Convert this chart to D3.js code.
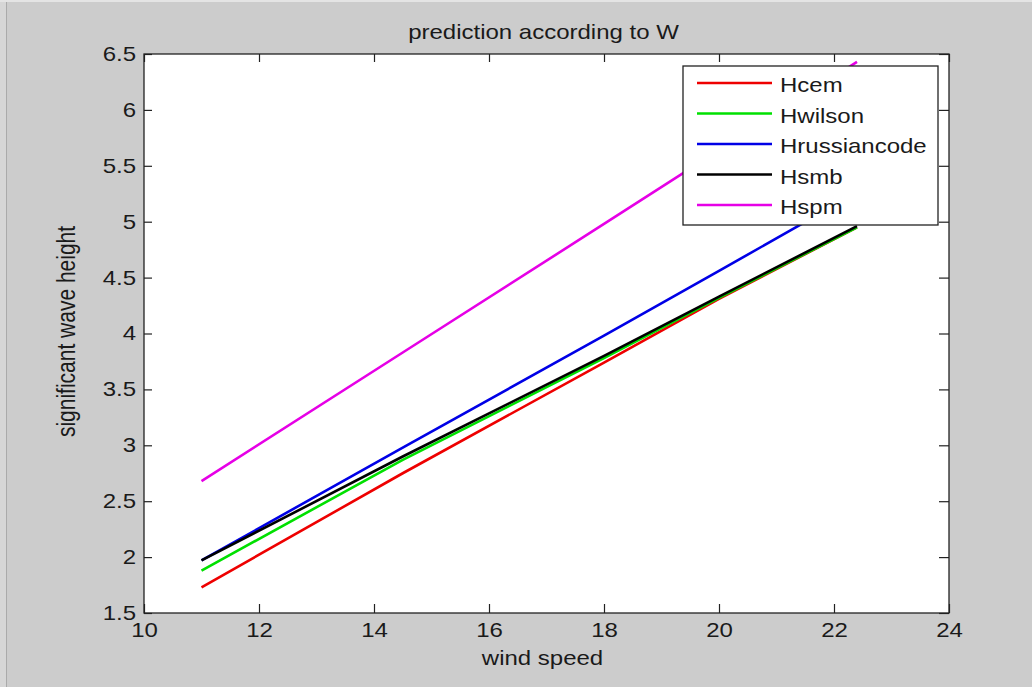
<!DOCTYPE html>
<html>
<head>
<meta charset="utf-8">
<script src="https://cdn.jsdelivr.net/npm/d3@7"></script>
<style>
  body { margin: 0; background: #cccccc; }
  text { font-family: "Liberation Sans", Arial, sans-serif; fill: #1a1a1a; }
</style>
</head>
<body>
<div id="chart"></div>
<script>
// wind speed samples and predicted heights for each method
const windSpeed = [11, 14.5, 18, 20, 22.4];
const hCem      = [1.73, 2.75, 3.74, 4.31, 4.95];
const hWilson   = [1.88, 2.87, 3.78, 4.32, 4.95];
const hRussian  = [1.97, 2.98, 3.98, 4.56, 5.26];
const hSmb      = [1.97, 2.90, 3.80, 4.33, 4.96];
const hSpm      = [2.68, 3.83, 4.98, 5.64, 6.43];

const seriesNames = ['Hcem', 'Hwilson', 'Hrussiancode', 'Hsmb', 'Hspm'];
const seriesValues = [hCem, hWilson, hRussian, hSmb, hSpm];
const seriesColors = ['#ee0000', '#00e000', '#0000e6', '#000000', '#e600e6'];

const xTicks = [10, 12, 14, 16, 18, 20, 22, 24];
const yTicks = [1.5, 2, 2.5, 3, 3.5, 4, 4.5, 5, 5.5, 6, 6.5];

// the screenshot's lettering is stretched sideways
const SX = 1.2;

class LineChart {

  constructor(_config) {
    this.config = {
      parentElement: _config.parentElement,
      containerWidth: _config.containerWidth || 1032,
      containerHeight: _config.containerHeight || 687,
      margin: { top: 54, bottom: 74, right: 83, left: 144 }
    }
    this.initVis();
  }

  initVis() {
    const vis = this;
    const m = vis.config.margin;

    vis.width = vis.config.containerWidth - m.left - m.right;
    vis.height = vis.config.containerHeight - m.top - m.bottom;

    vis.root = d3.select(vis.config.parentElement)
        .append('svg')
        .attr('width', vis.config.containerWidth)
        .attr('height', vis.config.containerHeight);

    // window edge shading
    vis.root.append('rect').attr('x', 0).attr('y', 0).attr('width', 6).attr('height', vis.config.containerHeight).attr('fill', '#d6d6d6');
    vis.root.append('rect').attr('x', 6).attr('y', 0).attr('width', 1).attr('height', vis.config.containerHeight).attr('fill', '#aaaaaa');
    vis.root.append('rect').attr('x', 0).attr('y', 0).attr('width', vis.config.containerWidth).attr('height', 2).attr('fill', '#e4e4e4');

    vis.svg = vis.root.append('g')
        .attr('transform', `translate(${m.left}, ${m.top})`);

    vis.xScale = d3.scaleLinear().domain([10, 24]).range([0, vis.width]);
    vis.yScale = d3.scaleLinear().domain([1.5, 6.5]).range([vis.height, 0]);

    // plot background
    vis.svg.append('rect')
        .attr('width', vis.width)
        .attr('height', vis.height)
        .attr('fill', '#fff');

    // axes, ticks pointing inward like matlab
    vis.svg.append('g')
        .attr('transform', `translate(0, ${vis.height})`)
        .call(d3.axisBottom(vis.xScale).tickValues(xTicks).tickSizeInner(-9).tickSizeOuter(0).tickPadding(10))
        .call(g => g.selectAll('text')
            .attr('font-size', 20)
            .attr('fill', '#1a1a1a')
            .attr('transform', `scale(${SX},1)`));

    vis.svg.append('g')
        .call(d3.axisTop(vis.xScale).tickValues(xTicks).tickSizeInner(-8).tickSizeOuter(0).tickFormat(''));

    vis.svg.append('g')
        .call(d3.axisLeft(vis.yScale).tickValues(yTicks).tickSizeInner(-8).tickSizeOuter(0).tickFormat(d3.format('')))
        .call(g => g.selectAll('text')
            .attr('font-size', 20)
            .attr('fill', '#1a1a1a')
            .attr('x', -8 / SX)
            .attr('transform', `scale(${SX},1)`));

    vis.svg.append('g')
        .attr('transform', `translate(${vis.width}, 0)`)
        .call(d3.axisRight(vis.yScale).tickValues(yTicks).tickSizeInner(-10).tickSizeOuter(0).tickFormat(''));

    vis.svg.selectAll('.domain').remove();
    vis.svg.selectAll('.tick line').attr('stroke', '#222').attr('stroke-width', 1.2);

    vis.svg.append('rect')
        .attr('width', vis.width)
        .attr('height', vis.height)
        .attr('fill', 'none')
        .attr('stroke', '#222')
        .attr('stroke-width', 1.3);

    // lines
    vis.line = d3.line()
        .x((d, i) => vis.xScale(windSpeed[i]))
        .y(d => vis.yScale(d));

    vis.svg.selectAll('.series')
        .data(seriesValues)
        .join('path')
        .attr('class', 'series')
        .attr('d', vis.line)
        .attr('fill', 'none')
        .attr('stroke', (d, i) => seriesColors[i])
        .attr('stroke-width', 2.6)
        .attr('stroke-linejoin', 'round');

    // titles
    vis.svg.append('text')
        .attr('transform', `translate(${vis.width / 2 - 3}, -15) scale(${SX},1)`)
        .attr('text-anchor', 'middle')
        .attr('font-size', 20)
        .text('prediction according to W');

    vis.svg.append('text')
        .attr('transform', `translate(${vis.width / 2 - 4}, ${vis.height + 52}) scale(${SX},1)`)
        .attr('text-anchor', 'middle')
        .attr('font-size', 20)
        .text('wind speed');

    vis.svg.append('text')
        .attr('transform', `translate(-69, ${vis.height / 2 - 2}) rotate(-90) scale(1,${SX})`)
        .attr('text-anchor', 'middle')
        .attr('font-size', 21)
        .text('significant wave height');

    // legend
    const legend = vis.svg.append('g').attr('transform', 'translate(539, 12)');
    legend.append('rect')
        .attr('width', 255)
        .attr('height', 159)
        .attr('fill', '#fff')
        .attr('stroke', '#222')
        .attr('stroke-width', 1.3);

    const item = legend.selectAll('.item')
        .data(seriesNames)
        .join('g')
        .attr('class', 'item')
        .attr('transform', (d, i) => `translate(0, ${17 + i * 30.5})`);

    item.append('line')
        .attr('x1', 14).attr('x2', 89)
        .attr('stroke', (d, i) => seriesColors[i])
        .attr('stroke-width', 2.6);

    item.append('text')
        .attr('transform', `translate(97, 9) scale(${SX},1)`)
        .attr('font-size', 20)
        .text(d => d);
  }
}

new LineChart({ parentElement: '#chart' });
</script>
</body>
</html>
